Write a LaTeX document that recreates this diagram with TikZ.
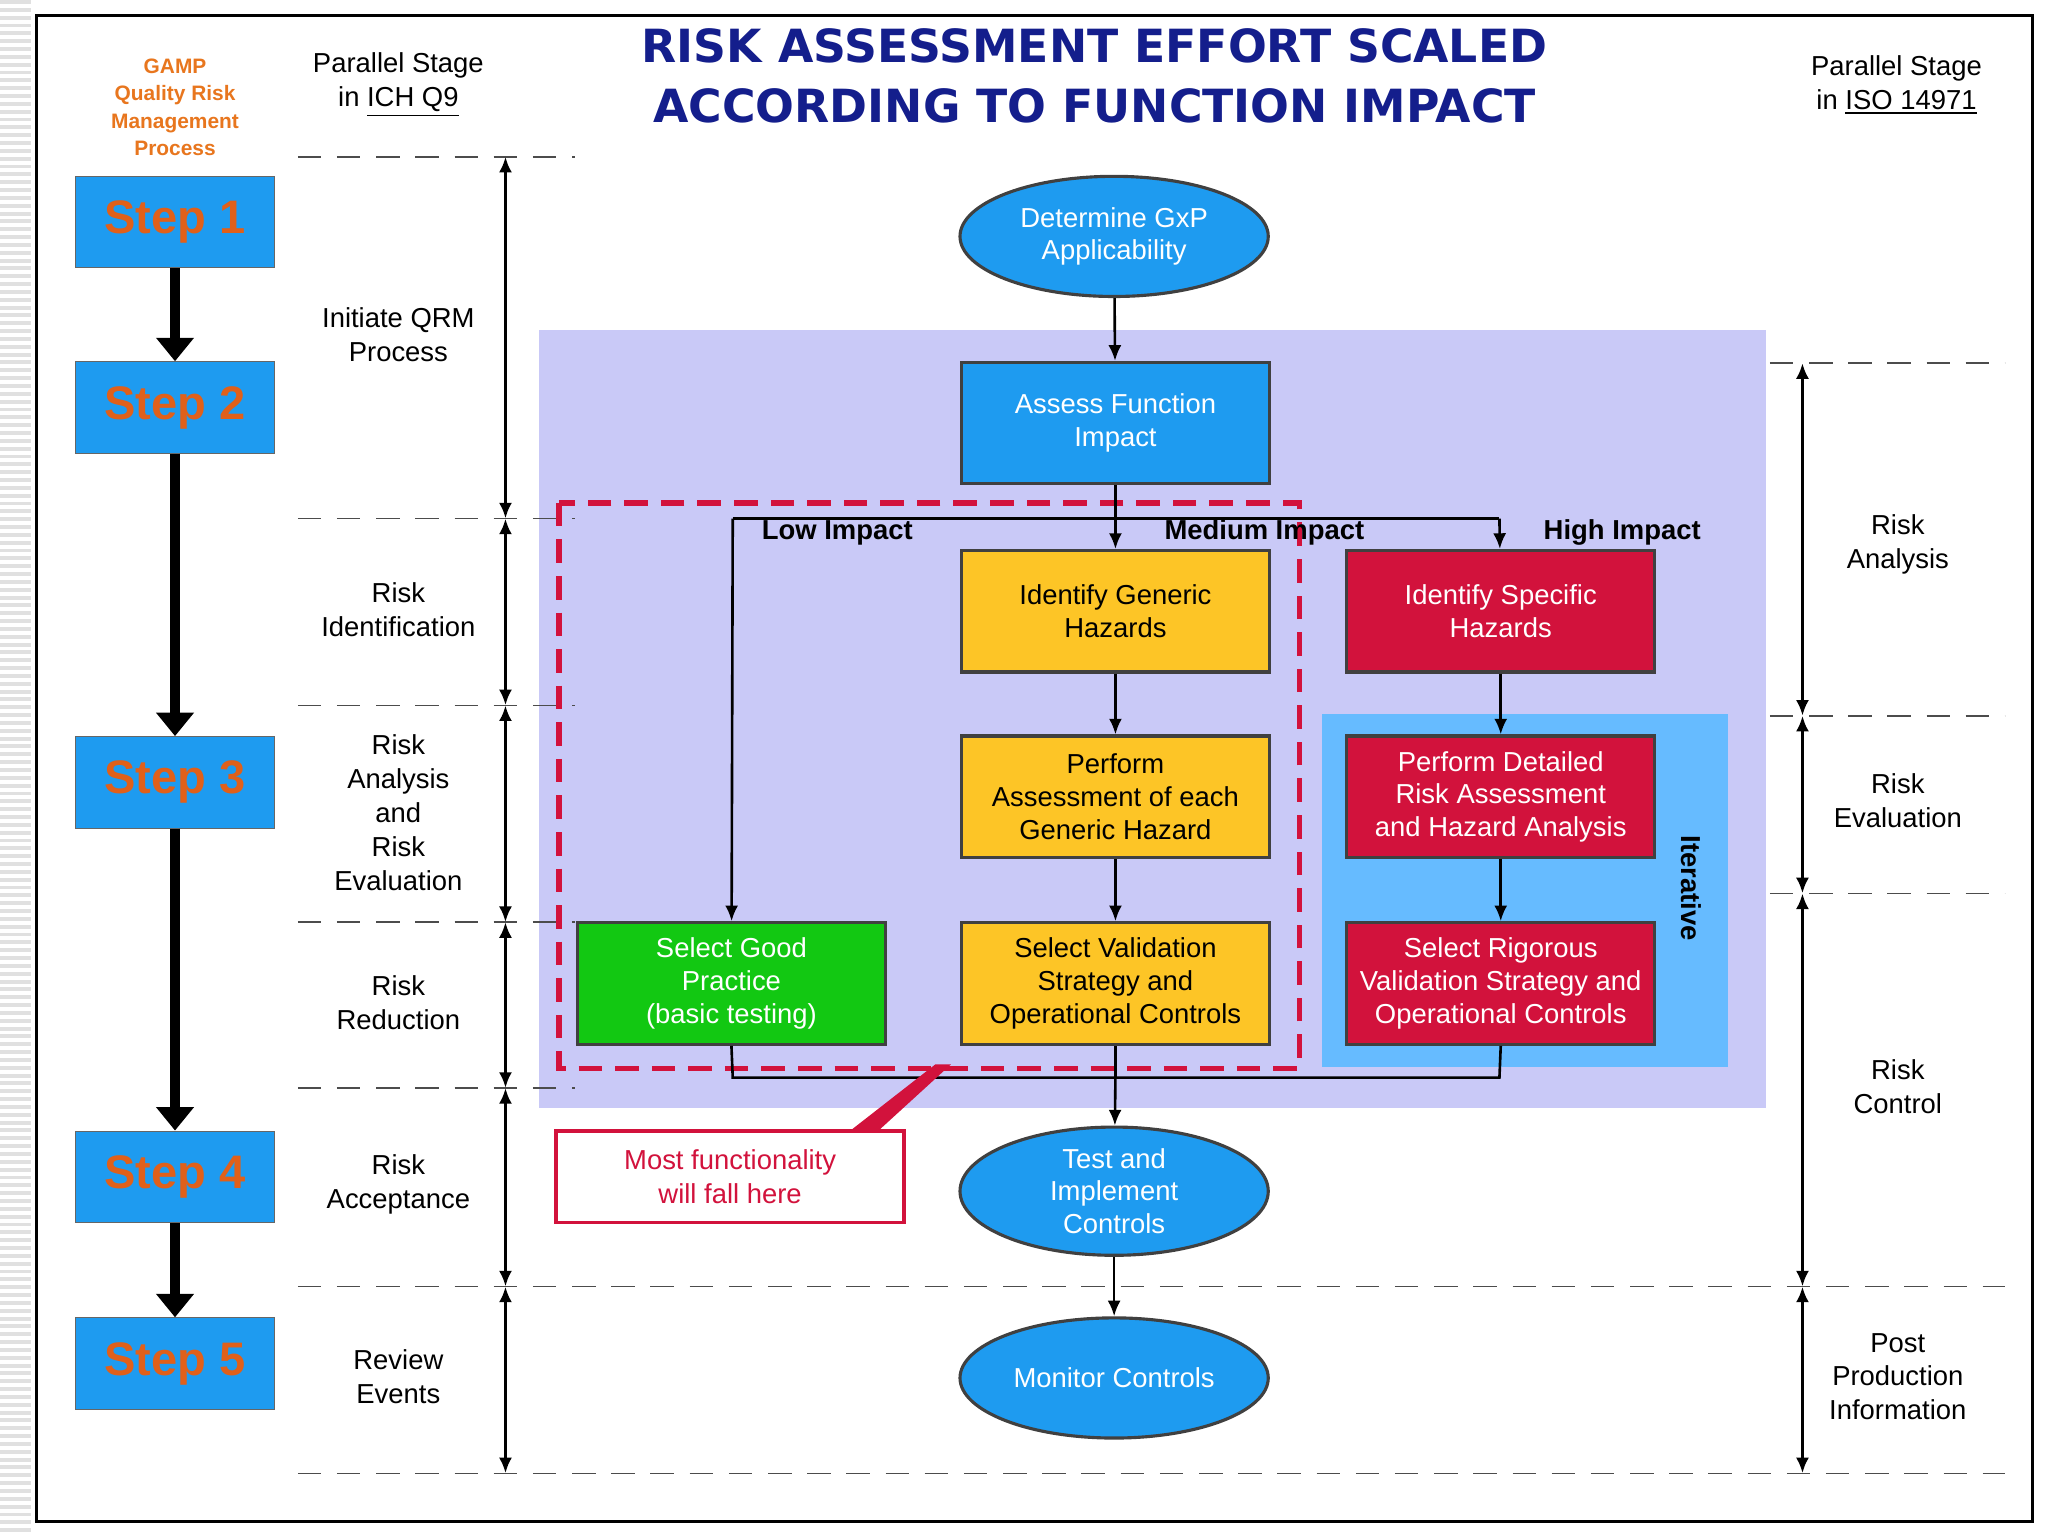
\documentclass[tikz,border=0pt]{standalone}
\usepackage{fontspec}
\setmainfont{Liberation Sans}
\newfontfamily\djv{DejaVu Sans}
\usetikzlibrary{shapes.geometric,arrows.meta,positioning}
\definecolor{bblue}{HTML}{1E9BF0}
\definecolor{lav}{HTML}{C9C9F7}
\definecolor{itb}{HTML}{66BBFF}
\definecolor{ylw}{HTML}{FDC526}
\definecolor{crm}{HTML}{D2123C}
\definecolor{grn}{HTML}{12C812}
\definecolor{stepc}{HTML}{E0601A}
\definecolor{ttl}{HTML}{141E8C}
\definecolor{gmp}{HTML}{E8761E}
\tikzset{
 base/.style={draw=black!75,line width=1.2pt,align=center,font=\fontsize{10.5}{12.5}\selectfont,inner sep=1pt},
 bx/.style={base,rectangle,minimum width=118pt,minimum height=46.5pt},
 el/.style={base,ellipse,fill=bblue,text=white,minimum width=118pt,minimum height=46pt},
 stepbox/.style={rectangle,draw=black!60,fill=bblue,minimum width=76pt,minimum height=35pt,text=stepc,font=\fontsize{18}{20}\bfseries},
 lbl/.style={align=center,font=\fontsize{10.5}{13}\selectfont},
 dsh/.style={dash pattern=on 9pt off 6pt,line width=0.6pt,black!70},
 darr/.style={{Latex[length=6pt,width=5pt]}-{Latex[length=6pt,width=5pt]},line width=1.2pt},
 arr/.style={-{Latex[length=6pt,width=5pt]},line width=1pt},
 big/.style={-{Triangle[length=9pt,width=14pt]},line width=3.5pt}
}
\begin{document}
\begin{tikzpicture}[x=0.5pt,y=-0.5pt]
\useasboundingbox (0,0) rectangle (1568,1176);
\fill[white] (0,0) rectangle (1568,1176);
\foreach \i in {0,6,...,1170} \fill[black!12] (0,\i) rectangle (24,\i+3);
\draw[line width=1.2pt] (28,12) rectangle (1556,1165);
% title
\node[font=\djv\fontsize{17.5}{23}\bfseries,text=ttl,align=center] (title) at (838,58) {RISK ASSESSMENT EFFORT SCALED\\ACCORDING TO FUNCTION IMPACT};
\node[font=\fontsize{8}{10.5}\bfseries,text=gmp,align=center] (gamp) at (134,82) {GAMP\\Quality Risk\\Management\\Process};
\node[lbl] (pl) at (305,65) {Parallel Stage\\in \underline{ICH Q9}};
\node[lbl] (pr) at (1452,65) {Parallel Stage\\in \underline{ISO 14971}};
% backgrounds
\fill[lav] (413,253) rectangle (1352,848);
\fill[itb] (1012,547) rectangle (1323,817);
\node[rotate=-90,font=\fontsize{10.5}{12}\bfseries] (iter) at (1295,680) {Iterative};
\draw[crm,line width=2.2pt,dash pattern=on 9pt off 5pt] (428,385) rectangle (995,818);
% steps
\node[stepbox] (s1) at (134,170) {Step 1};
\node[stepbox] (s2) at (134,312) {Step 2};
\node[stepbox] (s3) at (134,599) {Step 3};
\node[stepbox] (s4) at (134,901) {Step 4};
\node[stepbox] (s5) at (134,1044) {Step 5};
\draw[big] (s1) -- (s2); \draw[big] (s2) -- (s3); \draw[big] (s3) -- (s4); \draw[big] (s4) -- (s5);
% dashed lines
\foreach \y in {120,397,540,706,833} \draw[dsh] (228,\y) -- (440,\y);
\foreach \y in {985,1128} \draw[dsh] (228,\y) -- (1535,\y);
\foreach \y in {278,548,684} \draw[dsh] (1355,\y) -- (1535,\y);
\foreach \a/\b in {120/397,397/540,540/706,706/833,833/985,985/1128} \draw[darr] (387,\a) -- (387,\b);
\foreach \a/\b in {278/548,548/684,684/985,985/1128} \draw[darr] (1380,\a) -- (1380,\b);
% labels
\node[lbl] (l1) at (305,256) {Initiate QRM\\Process};
\node[lbl] (l2) at (305,467) {Risk\\Identification};
\node[lbl] (l3) at (305,622) {Risk\\Analysis\\and\\Risk\\Evaluation};
\node[lbl] (l4) at (305,768) {Risk\\Reduction};
\node[lbl] (l5) at (305,907) {Risk\\Acceptance};
\node[lbl] (l6) at (305,1054) {Review\\Events};
\node[lbl] (r1) at (1453,417) {Risk\\Analysis};
\node[lbl] (r2) at (1453,613) {Risk\\Evaluation};
\node[lbl] (r3) at (1453,832) {Risk\\Control};
\node[lbl] (r4) at (1453,1054) {Post\\Production\\Information};
% flow
\node[el] (gxp) at (853,181) {Determine GxP\\Applicability};
\node[bx,fill=bblue,text=white] (afi) at (854,324) {Assess Function\\Impact};
\node[bx,fill=ylw] (igh) at (854,468) {Identify Generic\\Hazards};
\node[bx,fill=ylw] (pag) at (854,610) {Perform\\Assessment of each\\Generic Hazard};
\node[bx,fill=ylw] (svs) at (854,753) {Select Validation\\Strategy and\\Operational Controls};
\node[bx,fill=crm,text=white] (ish) at (1149,468) {Identify Specific\\Hazards};
\node[bx,fill=crm,text=white] (pdr) at (1149,610) {Perform Detailed\\Risk Assessment\\and Hazard Analysis};
\node[bx,fill=crm,text=white] (srv) at (1149,753) {Select Rigorous\\Validation Strategy and\\Operational Controls};
\node[bx,fill=grn,text=white] (sgp) at (560,753) {Select Good\\Practice\\(basic testing)};
\node[el] (tic) at (853,912) {Test and\\Implement\\Controls};
\node[el] (mon) at (853,1055) {Monitor Controls};
\coordinate (bl) at (561,397); \coordinate (bm) at (854,397); \coordinate (br) at (1148,397);
\coordinate (ml) at (561,825); \coordinate (mm) at (854,825); \coordinate (mr) at (1148,825);
\draw[arr] (gxp) -- (afi);
\draw[line width=1pt] (afi) -- (bm);
\draw[line width=1pt] (bl) -- (br);
\draw[arr] (bm) -- (igh);
\draw[arr] (br) -- (ish);
\draw[arr] (bl) -- (sgp);
\draw[arr] (igh) -- (pag); \draw[arr] (pag) -- (svs);
\draw[arr] (ish) -- (pdr); \draw[arr] (pdr) -- (srv);
\draw[line width=1pt] (sgp.south) -- (ml) -- (mr) -- (srv.south);
\draw[line width=1pt] (svs) -- (mm);
\draw[arr] (mm) -- (tic);
\draw[arr] (tic) -- (mon);
\node[font=\fontsize{10.5}{12}\bfseries] (lo) at (641,408) {Low Impact};
\node[font=\fontsize{10.5}{12}\bfseries] (me) at (968,408) {Medium Impact};
\node[font=\fontsize{10.5}{12}\bfseries] (hi) at (1242,408) {High Impact};
% callout
\fill[crm] (648,868) -- (716,815) -- (728,815) -- (670,868) -- cycle;
\node[draw=crm,line width=1.5pt,fill=white,minimum width=133pt,minimum height=35pt,align=center,text=crm,font=\fontsize{10.5}{13}\selectfont] (call) at (559,901) {Most functionality\\will fall here};
\end{tikzpicture}
\end{document}
